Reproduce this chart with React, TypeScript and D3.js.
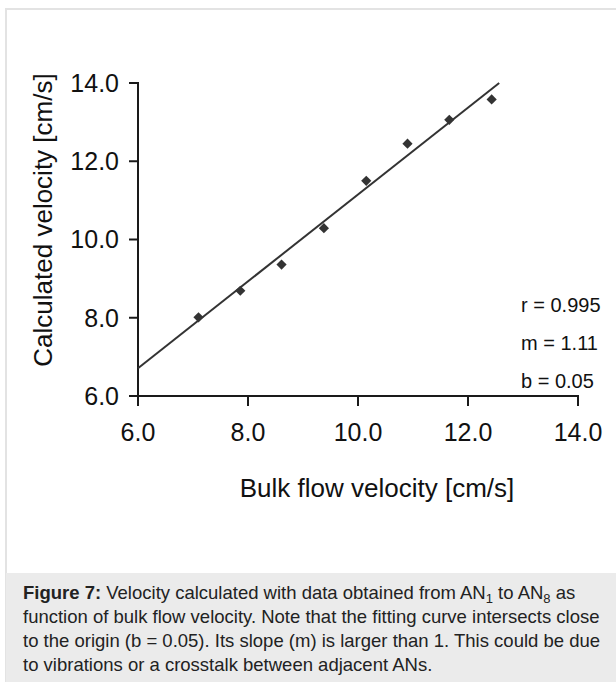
import React from "react";
import * as d3 from "d3";

const bulkVelocity = [7.1, 7.86, 8.61, 9.38, 10.15, 10.9, 11.66, 12.43];
const calculatedVelocity = [8.01, 8.69, 9.36, 10.29, 11.5, 12.45, 13.06, 13.58];
const tickValues = [6, 8, 10, 12, 14];
const fitSlope = 1.11;
const fitIntercept = 0.05;
const statLabels = ["r = 0.995", "m = 1.11", "b = 0.05"];
const xTitle = "Bulk flow velocity [cm/s]";
const yTitle = "Calculated velocity [cm/s]";

const W = 616;
const H = 682;

export default function App() {
  const x = d3.scaleLinear().domain([6, 14]).range([138, 578]);
  const y = d3.scaleLinear().domain([6, 14]).range([396, 83]);
  const fitX0 = 6;
  const fitX1 = (14 - fitIntercept) / fitSlope;
  const fitLine = d3.line<number>()
    .x((d) => x(d))
    .y((d) => y(fitSlope * d + fitIntercept))([fitX0, fitX1]);
  const marker = d3.symbol().type(d3.symbolSquare).size(52)();
  const axisColor = "#1a1a1a";
  const font = "Liberation Sans, Arial, sans-serif";

  return (
    <svg
      width={W}
      height={H}
      style={{ position: "absolute", left: 0, top: 0, display: "block" }}
      fontFamily={font}
    >
      <rect x={0} y={0} width={W} height={H} fill="#fff" />
      {/* outer frame */}
      <rect x={6} y={9} width={W + 10} height={H} fill="#fff" stroke="#e3e3e3" strokeWidth={2} />
      {/* caption box */}
      <rect x={6} y={573} width={W} height={H - 573} fill="#ebebeb" />

      {/* axes */}
      <path
        d={`M${x(6)},${y(6) + 10}V${y(6)}H${x(14)}V${y(6) + 10}`}
        fill="none"
        stroke={axisColor}
        strokeWidth={2}
      />
      <path
        d={`M${x(6) - 9},${y(14)}H${x(6)}V${y(6)}`}
        fill="none"
        stroke={axisColor}
        strokeWidth={2}
      />
      {tickValues.map((t) => (
        <g key={"xt" + t}>
          <line x1={x(t)} x2={x(t)} y1={y(6)} y2={y(6) + 10} stroke={axisColor} strokeWidth={2} />
          <text x={x(t)} y={441} fontSize={25} textAnchor="middle" fill="#111">
            {t.toFixed(1)}
          </text>
        </g>
      ))}
      {tickValues.map((t) => (
        <g key={"yt" + t}>
          <line x1={x(6) - 9} x2={x(6)} y1={y(t)} y2={y(t)} stroke={axisColor} strokeWidth={2} />
          <text x={119} y={y(t)} dy="0.35em" fontSize={25} textAnchor="end" fill="#111">
            {t.toFixed(1)}
          </text>
        </g>
      ))}

      {/* fit line */}
      <path d={fitLine || ""} fill="none" stroke="#333" strokeWidth={2} />

      {/* points */}
      {bulkVelocity.map((bv, i) => (
        <path
          key={"p" + i}
          d={marker || ""}
          transform={`translate(${x(bv)},${y(calculatedVelocity[i])}) rotate(45)`}
          fill="#333"
        />
      ))}

      {/* stats */}
      {statLabels.map((s, i) => (
        <text key={s} x={521} y={312 + i * 38} fontSize={20} fill="#111">
          {s}
        </text>
      ))}

      {/* axis titles */}
      <text x={377} y={497} fontSize={26} textAnchor="middle" fill="#111">
        {xTitle}
      </text>
      <text
        transform={`translate(52,220) rotate(-90)`}
        fontSize={26}
        textAnchor="middle"
        fill="#111"
      >
        {yTitle}
      </text>

      {/* caption */}
      <g fontSize={18.5} fill="#222">
        <text x={23} y={599}>
          <tspan fontWeight="bold">Figure 7:</tspan>
          <tspan> Velocity calculated with data obtained from AN</tspan>
          <tspan fontSize={13} dy={4}>1</tspan>
          <tspan dy={-4}> to AN</tspan>
          <tspan fontSize={13} dy={4}>8</tspan>
          <tspan dy={-4}> as</tspan>
        </text>
        <text x={23} y={623}>
          function of bulk flow velocity. Note that the fitting curve intersects close
        </text>
        <text x={23} y={647}>
          to the origin (b = 0.05). Its slope (m) is larger than 1. This could be due
        </text>
        <text x={23} y={671}>
          to vibrations or a crosstalk between adjacent ANs.
        </text>
      </g>
    </svg>
  );
}
